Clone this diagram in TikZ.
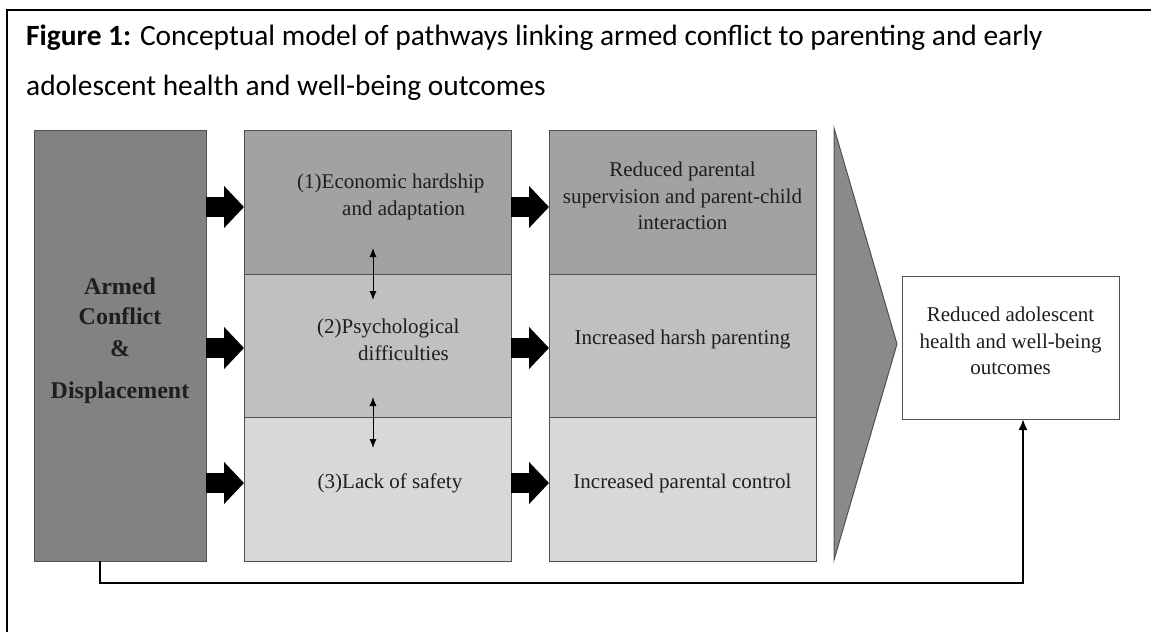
\documentclass[tikz,border=0pt]{standalone}
\usepackage{fontspec}
\setmainfont{Liberation Serif}
\newfontfamily\calibri{Carlito}
\usetikzlibrary{arrows.meta}
\definecolor{gLeft}{RGB}{130,130,130}
\definecolor{gRowA}{RGB}{162,162,162}
\definecolor{gRowB}{RGB}{192,192,192}
\definecolor{gRowC}{RGB}{216,216,216}
\definecolor{gChev}{RGB}{138,138,138}
\definecolor{edge}{RGB}{80,80,80}
\definecolor{ink}{RGB}{30,30,30}
\tikzset{
  box/.style={draw=edge, line width=1pt, anchor=north west, inner sep=0pt, outer sep=0pt},
  txt/.style={text=ink, font=\fontsize{21}{26.5}\selectfont, align=center, inner sep=0pt},
  fat/.style={line width=20pt, -{Triangle[length=20pt,width=41pt]}, black},
  thin/.style={line width=1pt, {Latex[length=9pt,width=7pt]}-{Latex[length=9pt,width=7pt]}, black},
  conn/.style={line width=2pt, -{Latex[length=11pt,width=9pt]}, black},
  ttl/.style={anchor=base west, inner sep=0pt, font=\calibri\fontsize{29.4}{32}\selectfont},
}
\begin{document}
\begin{tikzpicture}[x=1pt,y=-1pt]
\useasboundingbox (0,0) rectangle (1151,632);
% outer frame (cropped on right and bottom)
\draw[line width=2.3pt, black] (1151,10) -- (7,10) -- (7,632);
% title
\node[ttl] (t1) at (26,45)
  {\textbf{Figure 1:} Conceptual model of pathways linking armed conflict to parenting and early};
\node[ttl] (t2) at (26,95)
  {adolescent health and well-being outcomes};
% left box
\node[box, fill=gLeft, minimum width=172pt, minimum height=431pt] (L) at (34,130) {};
\node[txt, font=\bfseries\fontsize{24}{30}\selectfont] (Lt) at (120,341)
  {Armed\\Conflict\\[2pt]\&\\[12pt]Displacement};
% middle column
\node[box, fill=gRowA, minimum width=267pt, minimum height=144pt] (M1) at (244,130) {};
\node[box, fill=gRowB, minimum width=267pt, minimum height=143pt] (M2) at (244,274) {};
\node[box, fill=gRowC, minimum width=267pt, minimum height=144pt] (M3) at (244,417) {};
\node[txt, align=left, anchor=west] (M1t) at (297,197) {(1)Economic hardship\\\hspace*{45pt}and adaptation};
\node[txt, align=left, anchor=west] (M2t) at (317,340) {(2)Psychological\\\hspace*{41pt}difficulties};
\node[txt] (M3t) at (390,483) {(3)Lack of safety};
% right column
\node[box, fill=gRowA, minimum width=267pt, minimum height=144pt] (R1) at (549,130) {};
\node[box, fill=gRowB, minimum width=267pt, minimum height=143pt] (R2) at (549,274) {};
\node[box, fill=gRowC, minimum width=267pt, minimum height=144pt] (R3) at (549,417) {};
\node[txt] (R1t) at (682.5,196) {Reduced parental\\supervision and parent-child\\interaction};
\node[txt] (R2t) at (682.5,339) {Increased harsh parenting};
\node[txt] (R3t) at (682.5,483) {Increased parental control};
% chevron
\draw[draw=edge, line width=1pt, fill=gChev] (834,128) -- (897,344) -- (834,560) -- cycle;
% final box
\node[box, fill=white, minimum width=217pt, minimum height=143pt] (F) at (902,276) {};
\node[txt] (Ft) at (1010.5,341) {Reduced adolescent\\health and well-being\\outcomes};
% fat arrows
\draw[fat] (L.east |- 0,207) -- (M1.west |- 0,207);
\draw[fat] (L.east |- 0,348) -- (M2.west |- 0,348);
\draw[fat] (L.east |- 0,483) -- (M3.west |- 0,483);
\draw[fat] (M1.east |- 0,207) -- (R1.west |- 0,207);
\draw[fat] (M2.east |- 0,348) -- (R2.west |- 0,348);
\draw[fat] (M3.east |- 0,483) -- (R3.west |- 0,483);
% double arrows between pathways
\coordinate (d1a) at (373,248);
\coordinate (d1b) at (373,300);
\coordinate (d2a) at (373,397);
\coordinate (d2b) at (373,448);
\draw[thin] (d1a) -- (d1b);
\draw[thin] (d2a) -- (d2b);
% direct path
\draw[conn] (L.south -| 100,0) -- (100,583) -- (1023,583) -- (F.south -| 1023,0);
\end{tikzpicture}
\end{document}
